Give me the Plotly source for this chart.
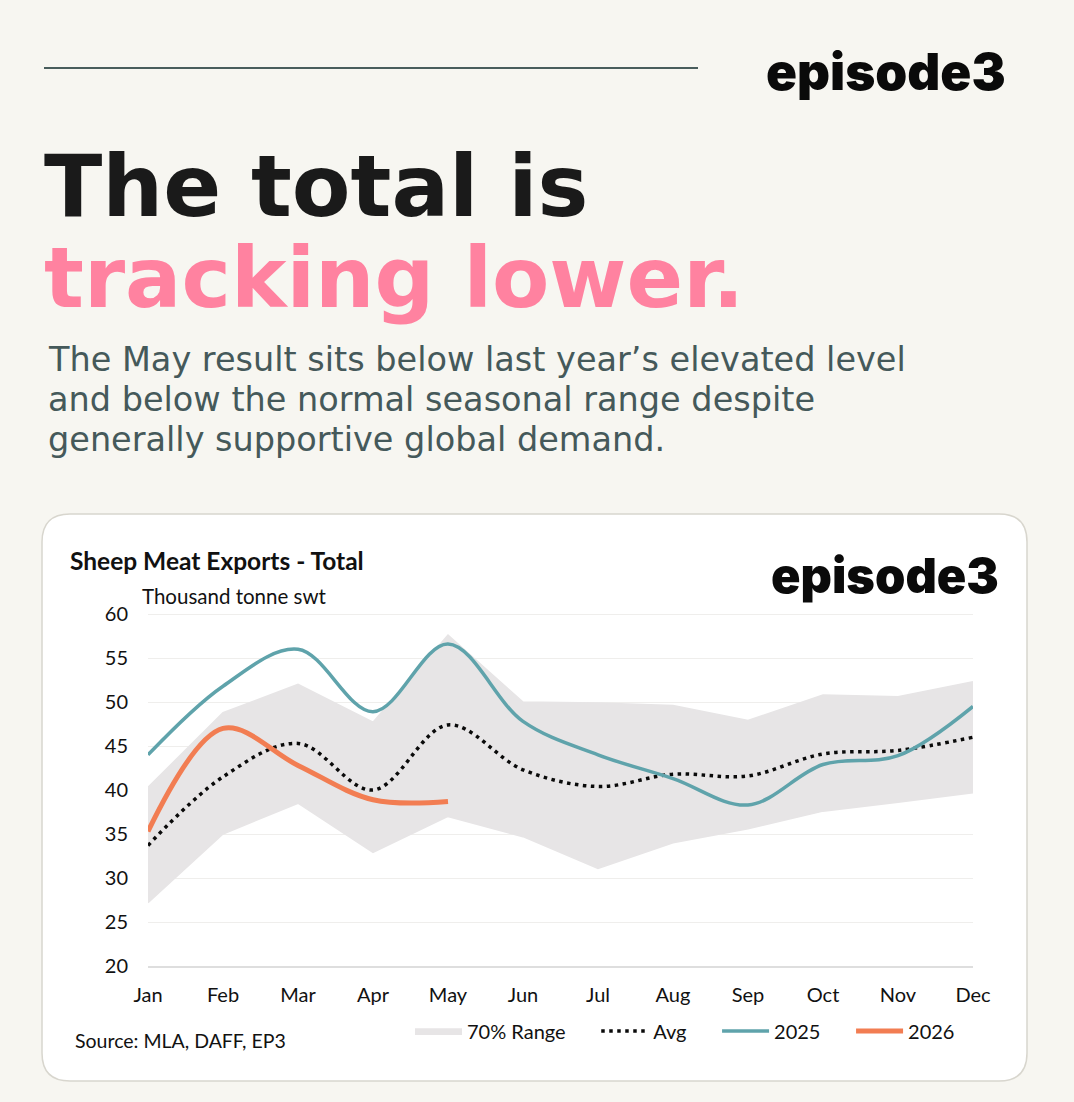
import plotly.graph_objects as go

months = ['Jan', 'Feb', 'Mar', 'Apr', 'May', 'Jun', 'Jul', 'Aug', 'Sep', 'Oct', 'Nov', 'Dec']
range_low = [27.2, 35.0, 38.5, 32.9, 37.0, 34.7, 31.1, 34.0, 35.6, 37.6, 38.6, 39.7]
range_high = [40.3, 48.8, 52.0, 47.7, 57.6, 50.0, 49.9, 49.6, 47.9, 50.8, 50.6, 52.3]
avg = [33.7, 41.5, 45.3, 40.0, 47.4, 42.3, 40.4, 41.8, 41.6, 44.1, 44.5, 46.0]
y2025 = [44.0, 51.8, 56.0, 48.9, 56.6, 47.8, 44.0, 41.3, 38.3, 42.9, 43.9, 49.5]
y2026 = [35.3, 47.0, 42.8, 38.9, 38.7]

W, H = 1074, 1102
# plot area in page pixels, top is one pixel above 60 so its gridline is kept
L, R, T, B = 148, 973, 613, 966
# non breaking spaces to open up the legend entries
GAP = '\u00a0' * 5


# page pixels to paper coordinates
def px(x):
    return (x - L) / (R - L)


def py(y):
    return (B - y) / (B - T)


def label(x, y, text, size, color='#111111', family='Lato', weight=400, anchor='left'):
    fig.add_annotation(x=px(x), y=py(y), xref='paper', yref='paper', text=text, showarrow=False,
                       xanchor=anchor, yanchor='middle', align='left',
                       font=dict(family=family, size=size, color=color, weight=weight))


fig = go.Figure()

fig.add_trace(go.Scatter(x=months, y=range_low, mode='lines', line=dict(width=1.5, color='#E7E5E6'),
                         showlegend=False, hoverinfo='skip'))
fig.add_trace(go.Scatter(x=months, y=range_high, mode='lines', name='70% Range' + GAP, fill='tonexty',
                         fillcolor='#E7E5E6', line=dict(width=1.5, color='#E7E5E6')))
fig.add_trace(go.Scatter(x=months, y=avg, mode='lines', name='Avg' + GAP, cliponaxis=False,
                         line=dict(color='#0A0A0A', width=3.5, dash='3.5px 4.5px', shape='spline', smoothing=1)))
fig.add_trace(go.Scatter(x=months, y=y2025, mode='lines', name='2025' + GAP, cliponaxis=False,
                         line=dict(color='#5FA3AB', width=3.5, shape='spline', smoothing=1)))
fig.add_trace(go.Scatter(x=months[:5], y=y2026, mode='lines', name='2026', cliponaxis=False,
                         line=dict(color='#F27D52', width=5, shape='spline', smoothing=1)))

# white card behind the chart
r = 28
x0, x1, y0, y1 = 42, 1027, 514, 1081
card = (f'M {px(x0 + r)} {py(y0)} L {px(x1 - r)} {py(y0)} Q {px(x1)} {py(y0)} {px(x1)} {py(y0 + r)} '
        f'L {px(x1)} {py(y1 - r)} Q {px(x1)} {py(y1)} {px(x1 - r)} {py(y1)} '
        f'L {px(x0 + r)} {py(y1)} Q {px(x0)} {py(y1)} {px(x0)} {py(y1 - r)} '
        f'L {px(x0)} {py(y0 + r)} Q {px(x0)} {py(y0)} {px(x0 + r)} {py(y0)} Z')
fig.add_shape(type='path', path=card, xref='paper', yref='paper', layer='below',
              fillcolor='white', line=dict(color='#D8D6CE', width=1.5))
fig.add_shape(type='line', xref='paper', yref='paper', x0=px(44), x1=px(698), y0=py(68), y1=py(68),
              line=dict(color='#0F2A2A', width=1.5))

label(764, 71, 'episode3', 51.2, color='#0A0A0A', family='Inter', weight=900)
label(42, 186, 'The total is', 85.5, color='#1A1A1A', family='DejaVu Sans', weight=700)
label(42, 278, 'tracking lower.', 83.5, color='#FF82A0', family='DejaVu Sans', weight=700)
label(46, 359, 'The May result sits below last year’s elevated level', 33.5, color='#45595A', family='DejaVu Sans')
label(46, 399, 'and below the normal seasonal range despite', 33.5, color='#45595A', family='DejaVu Sans')
label(46, 439, 'generally supportive global demand.', 33.5, color='#45595A', family='DejaVu Sans')

label(68, 560, 'Sheep Meat Exports - Total', 24.5, weight=700)
label(769, 575, 'episode3', 48.7, color='#0A0A0A', family='Inter', weight=900)
label(140, 596, 'Thousand tonne swt', 20.5)
label(73, 1040, 'Source: MLA, DAFF, EP3', 19.5)

fig.update_layout(
    width=W, height=H,
    margin=dict(l=L, r=W - R, t=T, b=H - B, pad=0),
    paper_bgcolor='#F7F6F1', plot_bgcolor='rgba(0,0,0,0)',
    font=dict(family='Lato', size=20, color='#111111'),
    legend=dict(orientation='h', x=px(410), y=py(1031), xanchor='left', yanchor='middle',
                bgcolor='rgba(0,0,0,0)', itemwidth=47, font=dict(size=20), traceorder='normal'),
    xaxis=dict(type='category', categoryorder='array', categoryarray=months, range=[0, 11],
               showgrid=False, zeroline=False, ticks='', ticklabelstandoff=10,
               showline=True, linecolor='#DEDEDE', linewidth=1.5),
    yaxis=dict(range=[20, 60.12], tick0=20, dtick=5, gridcolor='#EFEEEC', gridwidth=1.2, zeroline=False,
               showline=False, ticks='', ticklabelstandoff=19),
)

fig.write_html('out.html', post_script="document.body.style.margin='0';",
               config=dict(displayModeBar=False))
